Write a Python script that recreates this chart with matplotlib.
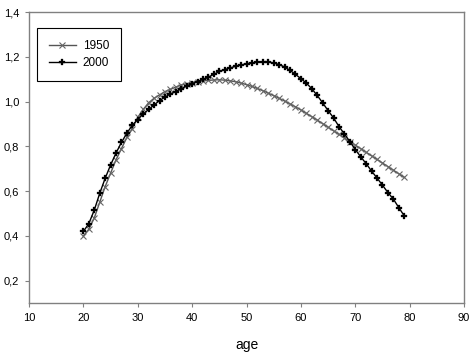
import numpy as np
import matplotlib.pyplot as plt
from matplotlib.ticker import FixedLocator, FuncFormatter

plt.rcParams['font.family'] = ['Liberation Sans', 'DejaVu Sans']

ages = np.arange(20, 80)

y1950 = [0.40, 0.43, 0.48, 0.55, 0.62, 0.68, 0.74, 0.79, 0.84, 0.88,
         0.93, 0.965, 0.995, 1.015, 1.03, 1.045, 1.055, 1.065, 1.075, 1.08,
         1.085, 1.09, 1.093, 1.095, 1.097, 1.098, 1.096, 1.093, 1.089, 1.083,
         1.076, 1.068, 1.059, 1.049, 1.038, 1.027, 1.015, 1.003, 0.99, 0.977,
         0.963, 0.948, 0.933, 0.918, 0.902, 0.886, 0.87, 0.854, 0.838, 0.822,
         0.806, 0.79, 0.774, 0.758, 0.742, 0.726, 0.71, 0.694, 0.678, 0.662]

y2000 = [0.42, 0.455, 0.515, 0.59, 0.657, 0.717, 0.77, 0.818, 0.859, 0.895,
         0.92, 0.945, 0.965, 0.985, 1.005, 1.02, 1.035, 1.045, 1.058, 1.07,
         1.08, 1.09, 1.10, 1.11, 1.122, 1.135, 1.143, 1.151, 1.158, 1.164,
         1.169, 1.173, 1.176, 1.178, 1.177, 1.173, 1.166, 1.155, 1.14, 1.122,
         1.103, 1.083, 1.058, 1.028, 0.995, 0.96, 0.928, 0.889, 0.856, 0.822,
         0.786, 0.754, 0.723, 0.69, 0.659, 0.627, 0.594, 0.565, 0.527, 0.49]

xticks = [10, 20, 30, 40, 50, 60, 70, 80, 90]
yticks = [0.2, 0.4, 0.6, 0.8, 1.0, 1.2, 1.4]

fig = plt.figure(figsize=(4.73, 3.57), dpi=100)
ax = fig.add_axes([0.0613, 0.151, 0.9197, 0.815])

ax.plot(ages, y1950, color='#555555', lw=1, marker='x', ms=5,
        mec='#666666', mew=0.8, label='1950')
ax.plot(ages, y2000, color='black', lw=1, marker='P', ms=4.2,
        mec='black', mfc='black', mew=0.2, label='2000')

ax.set_xlim(10, 90)
ax.set_ylim(0.1, 1.4)
ax.xaxis.set_major_locator(FixedLocator(xticks))
ax.yaxis.set_major_locator(FixedLocator(yticks))
ax.yaxis.set_major_formatter(FuncFormatter(lambda v, p: f'{v:.1f}'.replace('.', ',')))

for s in ax.spines.values():
    s.set_color('#808080')
    s.set_linewidth(1)
ax.tick_params(direction='out', length=3, color='#808080', labelsize=8, pad=4)
ax.set_xlabel('age', fontsize=10, labelpad=11)

leg = ax.legend(loc='upper left', bbox_to_anchor=(0.018, 0.945), borderaxespad=0,
                fancybox=False, edgecolor='black', framealpha=1, fontsize=8.5,
                handlelength=2.3, handletextpad=0.6, borderpad=1.0,
                labelspacing=0.45)
leg.get_frame().set_linewidth(0.8)

fig.savefig('out.png', dpi=100)
